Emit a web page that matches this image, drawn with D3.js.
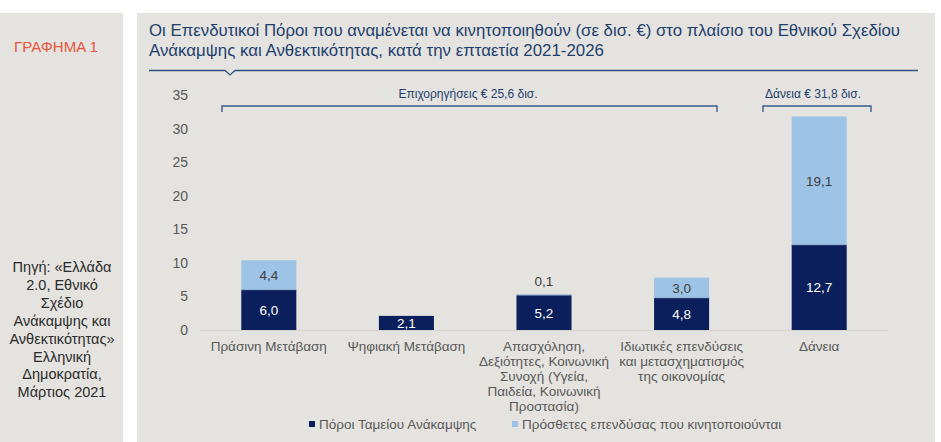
<!DOCTYPE html>
<html><head><meta charset="utf-8">
<script src="https://cdn.jsdelivr.net/npm/d3@7"></script>
<style>body{margin:0;background:#fff}svg{display:block;font-family:"Liberation Sans",Arial,sans-serif}</style>
</head><body>
<script>
const categories = [
  ["Πράσινη Μετάβαση"],
  ["Ψηφιακή Μετάβαση"],
  ["Απασχόληση,", "Δεξιότητες, Κοινωνική", "Συνοχή (Υγεία,", "Παιδεία, Κοινωνική", "Προστασία)"],
  ["Ιδιωτικές επενδύσεις", "και μετασχηματισμός", "της οικονομίας"],
  ["Δάνεια"]
];
const fundValues = [6.0, 2.1, 5.2, 4.8, 12.7];
const extraValues = [4.4, 0, 0.1, 3.0, 19.1];
const seriesNames = ["Πόροι Ταμείου Ανάκαμψης", "Πρόσθετες επενδύσας που κινητοποιούνται"];
const yTicks = [0, 5, 10, 15, 20, 25, 30, 35];
const titleLines = ["Οι Επενδυτικοί Πόροι που αναμένεται να κινητοποιηθούν (σε δισ. €) στο πλαίσιο του Εθνικού Σχεδίου",
                    "Ανάκαμψης και Ανθεκτικότητας, κατά την επταετία 2021-2026"];
const groupLabels = ["Επιχορηγήσεις € 25,6 δισ.", "Δάνεια € 31,8 δισ."];
const groupRanges = [[0, 3], [4, 4]];
const sourceLines = ["Πηγή: «Ελλάδα", "2.0,  Εθνικό", "Σχέδιο", "Ανάκαμψης και", "Ανθεκτικότητας»", "Ελληνική", "Δημοκρατία,", "Μάρτιος 2021"];

const W = 941, H = 442;
const panel = "#e4e3df", navy = "#0b1f5c", light = "#9dc3e6", blueTxt = "#1f3f6e", gray = "#595959";
const svg = d3.select("body").append("svg").attr("width", W).attr("height", H);

svg.append("rect").attr("x", 0).attr("y", 13).attr("width", 123).attr("height", H - 13).attr("fill", panel);
svg.append("rect").attr("x", 137).attr("y", 13).attr("width", 798).attr("height", H - 13).attr("fill", panel);

svg.append("text").attr("x", 14).attr("y", 52).attr("fill", "#e8543c").attr("font-size", 15)
  .attr("textLength", 84).attr("lengthAdjust", "spacingAndGlyphs").text("ΓΡΑΦΗΜΑ 1");
svg.append("g").selectAll("text").data(sourceLines).join("text")
  .attr("x", 62).attr("y", (d, i) => 272 + i * 17.9).attr("text-anchor", "middle")
  .attr("fill", "#2b2b2b").attr("font-size", 14.5).text(d => d);

const titleLen = [751, 455];
svg.append("g").selectAll("text").data(titleLines).join("text")
  .attr("x", 149).attr("y", (d, i) => 35.5 + i * 20).attr("fill", blueTxt).attr("font-size", 16)
  .attr("textLength", (d, i) => titleLen[i]).attr("lengthAdjust", "spacingAndGlyphs").text(d => d);
svg.append("path").attr("d", "M149,70.5 H225 L230,75 L235,70.5 H918").attr("fill", "none").attr("stroke", "#2f5183").attr("stroke-width", 1.3);

const x = d3.scaleBand().domain(d3.range(categories.length)).range([200, 888]).paddingInner(0.6).paddingOuter(0.3);
const y = d3.scaleLinear().domain([0, 35]).range([330, 95]);

const yAxis = svg.append("g").attr("transform", "translate(189,0)")
  .call(d3.axisLeft(y).tickValues(yTicks).tickSize(0).tickPadding(1));
yAxis.select(".domain").remove();
yAxis.selectAll("text").attr("font-size", 14).attr("fill", gray).attr("font-family", "Liberation Sans, Arial, sans-serif");

svg.append("line").attr("x1", 200).attr("x2", 888).attr("y1", y(0) + 0.5).attr("y2", y(0) + 0.5).attr("stroke", "#d6d5d1").attr("stroke-width", 1.5);

const data = categories.map((c, i) => ({i, a: fundValues[i], b: extraValues[i]}));
const bw = x.bandwidth();
const g = svg.append("g");
g.selectAll("rect.a").data(data).join("rect").attr("class", "a")
  .attr("x", d => x(d.i)).attr("width", bw).attr("y", d => y(d.a)).attr("height", d => y(0) - y(d.a))
  .attr("fill", navy);
g.selectAll("rect.b").data(data.filter(d => d.b > 0)).join("rect").attr("class", "b")
  .attr("x", d => x(d.i)).attr("width", bw).attr("y", d => y(d.a + d.b)).attr("height", d => y(d.a) - y(d.a + d.b))
  .attr("fill", light);
g.selectAll("line.sep").data(data.filter(d => d.b > 0)).join("line").attr("class", "sep")
  .attr("x1", d => x(d.i)).attr("x2", d => x(d.i) + bw).attr("y1", d => y(d.a)).attr("y2", d => y(d.a))
  .attr("stroke", "#8aa8cf").attr("stroke-width", 0.8);

const fmt = v => v.toFixed(1).replace(".", ",");
g.selectAll("text.a").data(data).join("text").attr("class", "a")
  .attr("x", d => x(d.i) + bw / 2).attr("y", d => (y(0) + y(d.a)) / 2 + 5).attr("text-anchor", "middle")
  .attr("fill", "#fff").attr("font-size", 13.5).text(d => fmt(d.a));
g.selectAll("text.b").data(data.filter(d => d.b > 0)).join("text").attr("class", "b")
  .attr("x", d => x(d.i) + bw / 2)
  .attr("y", d => (y(d.a) - y(d.a + d.b) < 12) ? y(d.a + d.b) - 8 : (y(d.a) + y(d.a + d.b)) / 2 + 5)
  .attr("text-anchor", "middle").attr("fill", "#404040").attr("font-size", 13.5).text(d => fmt(d.b));

// category labels
categories.forEach((lines, i) => {
  svg.append("g").selectAll("text").data(lines).join("text")
    .attr("x", x(i) + bw / 2).attr("y", (d, j) => 351 + j * 15).attr("text-anchor", "middle")
    .attr("fill", gray).attr("font-size", 13.5).text(d => d);
});

// brackets
const bx = [[222, 717], [763, 871]];
groupRanges.forEach((r, k) => {
  const x0 = bx[k][0], x1 = bx[k][1], yy = 106;
  svg.append("path").attr("d", `M${x0},${yy + 6} V${yy} H${x1} V${yy + 6}`)
    .attr("fill", "none").attr("stroke", "#3b5a8c").attr("stroke-width", 1.4);
  svg.append("text").attr("x", k === 0 ? 468 : 813).attr("y", 98).attr("text-anchor", "middle")
    .attr("fill", "#1f3f6e").attr("font-size", 12).text(groupLabels[k]);
});

// legend
const leg = [[309, navy, seriesNames[0]], [512, light, seriesNames[1]]];
leg.forEach(([lx, c, t]) => {
  svg.append("rect").attr("x", lx).attr("y", 421).attr("width", 6).attr("height", 6).attr("fill", c);
  svg.append("text").attr("x", lx + 10).attr("y", 429).attr("fill", gray).attr("font-size", 13.5).text(t);
});
</script>
</body></html>
